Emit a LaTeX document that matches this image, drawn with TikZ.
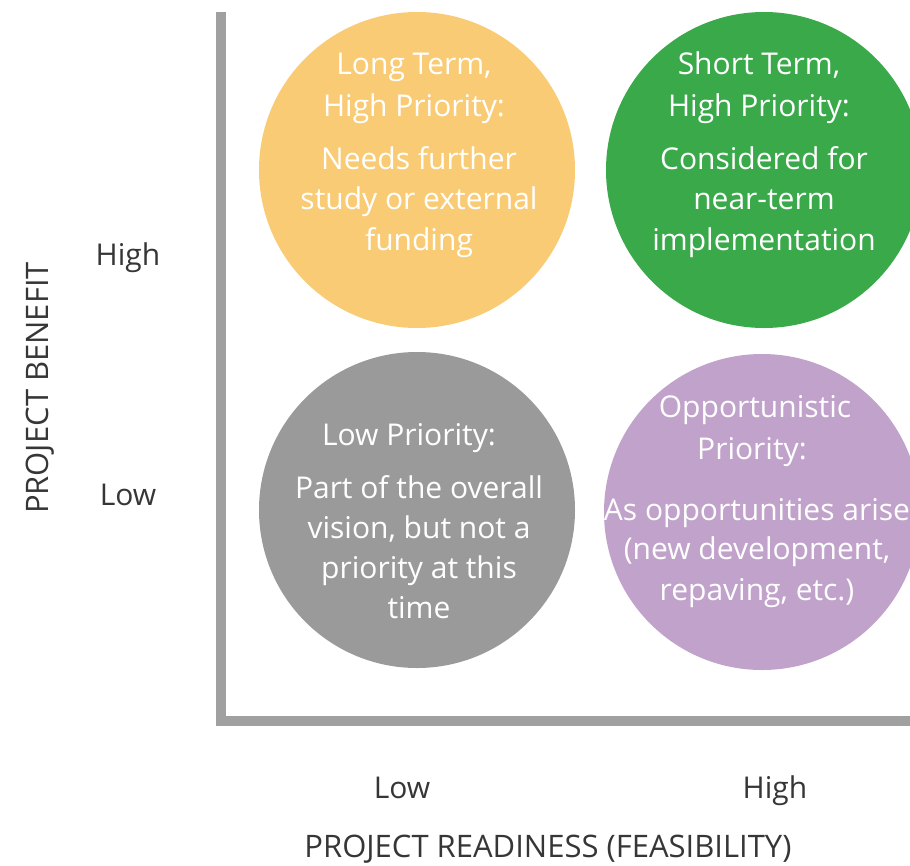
\documentclass[tikz,border=0pt]{standalone}
\usepackage{fontspec}
\setmainfont{Open Sans}
\definecolor{axisgray}{HTML}{A0A0A0}
\definecolor{cyellow}{HTML}{F9CB75}
\definecolor{cgreen}{HTML}{3AA94A}
\definecolor{cgray}{HTML}{9B9A9A}
\definecolor{cpurple}{HTML}{C0A2CB}
\definecolor{labelgray}{HTML}{363636}
\begin{document}
\begin{tikzpicture}[x=1pt,y=-1pt,
  bubble/.style={circle,inner sep=0pt,minimum size=316pt},
  ctext/.style={text=white,font=\fontsize{30}{33}\selectfont,anchor=base,inner sep=0pt},
  axlabel/.style={text=labelgray,font=\fontsize{30}{33}\selectfont,anchor=base,inner sep=0pt},
  axtitle/.style={text=labelgray,font=\fontsize{31}{34}\selectfont,anchor=base,inner sep=0pt}]
\useasboundingbox (0,0) rectangle (910,865);
\clip (0,0) rectangle (910,865);
% axes
\coordinate (top) at (221,12);
\coordinate (corner) at (221,721);
\coordinate (right) at (915,721);
\draw[axisgray,line width=10pt] (top) -- (corner) -- (right);
\fill[axisgray] (216,716) rectangle (226,726);
% circles
\node[bubble,fill=cyellow] (yellow) at (417,170) {};
\node[bubble,fill=cgreen] (green) at (764,170) {};
\node[bubble,fill=cgray] (gray) at (417,510) {};
\node[bubble,fill=cpurple] (purple) at (762,512) {};
% yellow text
\node[ctext] (y1) at (414,74) {Long Term,};
\node[ctext] (y2) at (414,116) {High Priority:};
\node[ctext] (y3) at (419,169) {Needs further};
\node[ctext] (y4) at (419,209) {study or external};
\node[ctext] (y5) at (419,250) {funding};
% green text
\node[ctext] (g1) at (759,74) {Short Term,};
\node[ctext] (g2) at (759,116) {High Priority:};
\node[ctext] (g3) at (764,169) {Considered for};
\node[ctext] (g4) at (764,209) {near-term};
\node[ctext] (g5) at (764,250) {implementation};
% gray text
\node[ctext] (k1) at (409,445) {Low Priority:};
\node[ctext] (k2) at (419,498) {Part of the overall};
\node[ctext] (k3) at (419,538) {vision, but not a};
\node[ctext] (k4) at (419,578) {priority at this};
\node[ctext] (k5) at (419,618) {time};
% purple text
\node[ctext] (p1) at (755,417) {Opportunistic};
\node[ctext] (p2) at (752,459) {Priority:};
\node[ctext] (p3) at (757,520) {As opportunities arise};
\node[ctext] (p4) at (757,559) {(new development,};
\node[ctext] (p5) at (757,600) {repaving, etc.)};
% axis labels
\node[axlabel] (yhigh) at (128,265) {High};
\node[axlabel] (ylow) at (128,505) {Low};
\node[axlabel] (xlow) at (402,798) {Low};
\node[axlabel] (xhigh) at (775,798) {High};
\node[axtitle,rotate=90] (ytitle) at (48,388) {PROJECT BENEFIT};
\node[axtitle] (xtitle) at (548,857) {PROJECT READINESS (FEASIBILITY)};
\end{tikzpicture}
\end{document}
